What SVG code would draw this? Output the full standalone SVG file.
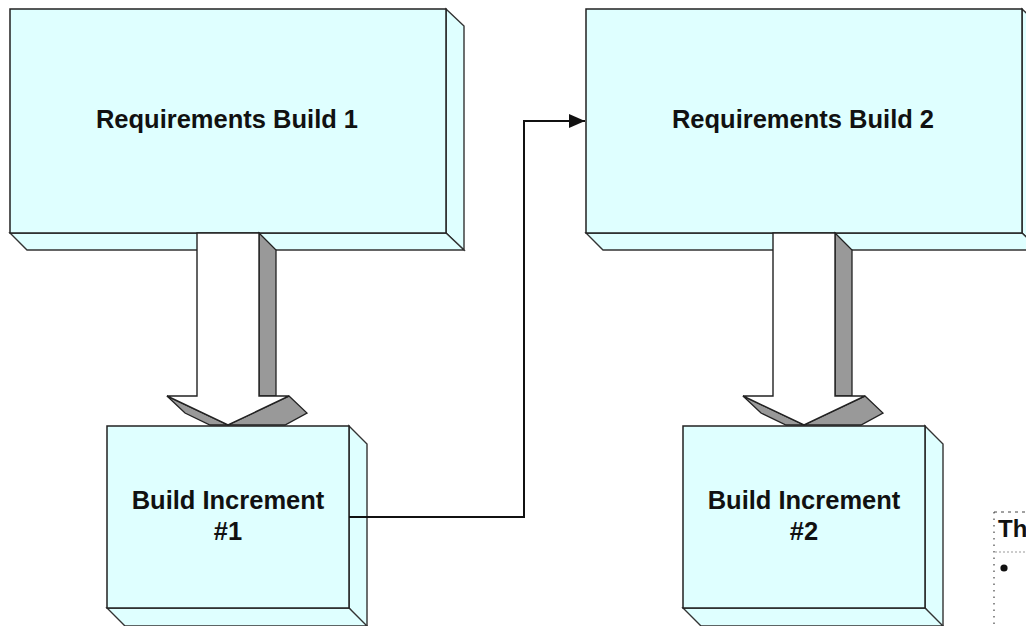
<svg xmlns="http://www.w3.org/2000/svg" width="1026" height="626" viewBox="0 0 1026 626">
<defs>
<style>
.face{fill:#dfffff;stroke:#222;stroke-width:1.5;stroke-linejoin:miter}
.side{fill:#dfffff;stroke:#333;stroke-width:1.4}
.grey{fill:#999;stroke:#222;stroke-width:1.3;stroke-linejoin:miter}
.white{fill:#fff;stroke:#222;stroke-width:1.4;stroke-linejoin:miter}
.lbl{font-family:"Liberation Sans",Arial,sans-serif;font-weight:bold;font-size:25.5px;fill:#111;text-anchor:middle}
.conn{fill:none;stroke:#111;stroke-width:2}
</style>
<marker id="ah" viewBox="0 0 16 14" refX="16" refY="7" markerWidth="16" markerHeight="14" markerUnits="userSpaceOnUse" orient="auto">
<path d="M0,0 L16,7 L0,14 z" fill="#111"/>
</marker>
</defs>
<rect width="1026" height="626" fill="#fff"/>

<g id="req1">
<polygon class="side" points="446,9 464,26 464,250 446,233"/>
<polygon class="side" points="10,233 446,233 464,250 27,250"/>
<rect class="face" x="10" y="9" width="436" height="224"/>
<text class="lbl" x="227" y="128">Requirements Build 1</text>
</g>

<g id="req2">
<polygon class="side" points="1022,9 1040,26 1040,250 1022,233"/>
<polygon class="side" points="586,233 1022,233 1040,250 603,250"/>
<rect class="face" x="586" y="9" width="436" height="224"/>
<text class="lbl" x="803" y="128">Requirements Build 2</text>
</g>

<g id="arrow1">
<polygon class="grey" points="259,233 276,250 276,396 259,396"/>
<polygon class="grey" points="167,396 185,413 210,425 228,425"/>
<polygon class="grey" points="289,396 307,413 285,425 228,425"/>
<polygon class="white" points="197,233 259,233 259,396 289,396 228,425 167,396 197,396"/>
</g>

<g id="arrow2">
<polygon class="grey" points="835,233 852,250 852,396 835,396"/>
<polygon class="grey" points="743,396 761,413 786,425 804,425"/>
<polygon class="grey" points="865,396 883,413 861,425 804,425"/>
<polygon class="white" points="773,233 835,233 835,396 865,396 804,425 743,396 773,396"/>
</g>

<g id="inc1">
<polygon class="side" points="349,426 367,444 367,632 349,608"/>
<polygon class="side" points="107,608 349,608 367,626 125,626"/>
<rect class="face" x="107" y="426" width="242" height="182"/>
<text class="lbl" x="228" y="509">Build Increment</text>
<text class="lbl" x="228" y="540">#1</text>
</g>

<g id="inc2">
<polygon class="side" points="925,426 943,444 943,632 925,608"/>
<polygon class="side" points="683,608 925,608 943,626 701,626"/>
<rect class="face" x="683" y="426" width="242" height="182"/>
<text class="lbl" x="804" y="509">Build Increment</text>
<text class="lbl" x="804" y="540">#2</text>
</g>

<g id="connectors">
<polyline class="conn" points="349,517 524,517 524,121 585,121" marker-end="url(#ah)"/>
</g>

<g id="note">
<line x1="994" y1="512" x2="1026" y2="512" stroke="#444" stroke-width="1" stroke-dasharray="3,4"/>
<line x1="994" y1="512" x2="994" y2="626" stroke="#444" stroke-width="1.2" stroke-dasharray="1.5,5"/>
<line x1="995" y1="552" x2="1026" y2="552" stroke="#999" stroke-width="1" stroke-dasharray="2,2"/>
<text x="998" y="537" font-family="Liberation Sans, Arial, sans-serif" font-weight="bold" font-size="24" fill="#111">Th</text>
<circle cx="1004" cy="568" r="3.6" fill="#111"/>
</g>
</svg>
